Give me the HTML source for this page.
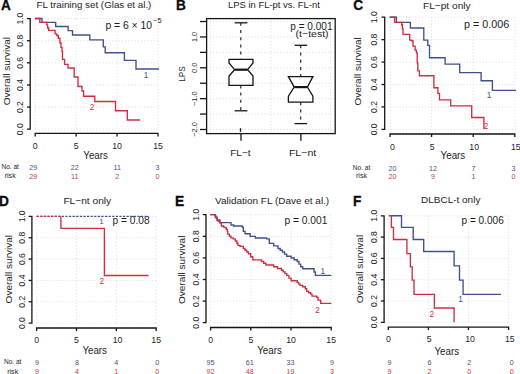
<!DOCTYPE html><html><head><meta charset="utf-8"><style>html,body{margin:0;padding:0;background:#fff;width:520px;height:374px;overflow:hidden}</style></head><body><svg width="520" height="374" viewBox="0 0 520 374" style="display:block">
<rect width="520" height="374" fill="#fff"/>
<g font-family='"Liberation Sans", sans-serif'>
<text x="1.00" y="10.00" font-size="14" font-weight="bold" textLength="9.8" lengthAdjust="spacingAndGlyphs" fill="#0a0a0a" stroke="#0a0a0a" stroke-width="0.3">A</text>
<text x="176.00" y="9.70" font-size="14" font-weight="bold" textLength="9.9" lengthAdjust="spacingAndGlyphs" fill="#0a0a0a" stroke="#0a0a0a" stroke-width="0.3">B</text>
<text x="353.20" y="9.80" font-size="14" font-weight="bold" textLength="9.9" lengthAdjust="spacingAndGlyphs" fill="#0a0a0a" stroke="#0a0a0a" stroke-width="0.3">C</text>
<text x="-0.90" y="205.50" font-size="14" font-weight="bold" textLength="9.9" lengthAdjust="spacingAndGlyphs" fill="#0a0a0a" stroke="#0a0a0a" stroke-width="0.3">D</text>
<text x="175.00" y="205.80" font-size="14" font-weight="bold" textLength="9.2" lengthAdjust="spacingAndGlyphs" fill="#0a0a0a" stroke="#0a0a0a" stroke-width="0.3">E</text>
<text x="353.00" y="206.40" font-size="14" font-weight="bold" textLength="8.4" lengthAdjust="spacingAndGlyphs" fill="#0a0a0a" stroke="#0a0a0a" stroke-width="0.3">F</text>
<line x1="35.20" y1="18.60" x2="158.00" y2="18.60" stroke="#d6d6d6" stroke-width="0.9" stroke-dasharray="1 2.2"/>
<line x1="35.20" y1="40.72" x2="158.00" y2="40.72" stroke="#d6d6d6" stroke-width="0.9" stroke-dasharray="1 2.2"/>
<line x1="35.20" y1="62.84" x2="158.00" y2="62.84" stroke="#d6d6d6" stroke-width="0.9" stroke-dasharray="1 2.2"/>
<line x1="35.20" y1="84.96" x2="158.00" y2="84.96" stroke="#d6d6d6" stroke-width="0.9" stroke-dasharray="1 2.2"/>
<line x1="35.20" y1="107.08" x2="158.00" y2="107.08" stroke="#d6d6d6" stroke-width="0.9" stroke-dasharray="1 2.2"/>
<line x1="35.20" y1="129.20" x2="158.00" y2="129.20" stroke="#d6d6d6" stroke-width="0.9" stroke-dasharray="1 2.2"/>
<line x1="35.20" y1="18.60" x2="35.20" y2="129.20" stroke="#d6d6d6" stroke-width="0.9" stroke-dasharray="1 2.2"/>
<line x1="76.13" y1="18.60" x2="76.13" y2="129.20" stroke="#d6d6d6" stroke-width="0.9" stroke-dasharray="1 2.2"/>
<line x1="117.07" y1="18.60" x2="117.07" y2="129.20" stroke="#d6d6d6" stroke-width="0.9" stroke-dasharray="1 2.2"/>
<line x1="158.00" y1="18.60" x2="158.00" y2="129.20" stroke="#d6d6d6" stroke-width="0.9" stroke-dasharray="1 2.2"/>
<path d="M27.00,18.60 L30.20,18.60 L30.20,129.20 L27.00,129.20" fill="none" stroke="#151515" stroke-width="1.3"/>
<line x1="27.00" y1="40.72" x2="30.20" y2="40.72" stroke="#151515" stroke-width="1.3"/>
<line x1="27.00" y1="62.84" x2="30.20" y2="62.84" stroke="#151515" stroke-width="1.3"/>
<line x1="27.00" y1="84.96" x2="30.20" y2="84.96" stroke="#151515" stroke-width="1.3"/>
<line x1="27.00" y1="107.08" x2="30.20" y2="107.08" stroke="#151515" stroke-width="1.3"/>
<text transform="translate(23.20,18.60) rotate(-90)" font-size="8.6" text-anchor="middle" fill="#1c1c1c" stroke="#1c1c1c" stroke-width="0.0">1.0</text>
<text transform="translate(23.20,40.72) rotate(-90)" font-size="8.6" text-anchor="middle" fill="#1c1c1c" stroke="#1c1c1c" stroke-width="0.0">0.8</text>
<text transform="translate(23.20,62.84) rotate(-90)" font-size="8.6" text-anchor="middle" fill="#1c1c1c" stroke="#1c1c1c" stroke-width="0.0">0.6</text>
<text transform="translate(23.20,84.96) rotate(-90)" font-size="8.6" text-anchor="middle" fill="#1c1c1c" stroke="#1c1c1c" stroke-width="0.0">0.4</text>
<text transform="translate(23.20,107.08) rotate(-90)" font-size="8.6" text-anchor="middle" fill="#1c1c1c" stroke="#1c1c1c" stroke-width="0.0">0.2</text>
<text transform="translate(23.20,129.20) rotate(-90)" font-size="8.6" text-anchor="middle" fill="#1c1c1c" stroke="#1c1c1c" stroke-width="0.0">0.0</text>
<path d="M35.20,136.40 L35.20,133.40 L158.00,133.40 L158.00,136.40" fill="none" stroke="#151515" stroke-width="1.3"/>
<line x1="76.13" y1="133.40" x2="76.13" y2="136.40" stroke="#151515" stroke-width="1.3"/>
<line x1="117.07" y1="133.40" x2="117.07" y2="136.40" stroke="#151515" stroke-width="1.3"/>
<text x="35.20" y="149.00" font-size="8.7" text-anchor="middle" fill="#1c1c1c" stroke="#1c1c1c" stroke-width="0.0">0</text>
<text x="76.13" y="149.00" font-size="8.7" text-anchor="middle" fill="#1c1c1c" stroke="#1c1c1c" stroke-width="0.0">5</text>
<text x="117.07" y="149.00" font-size="8.7" text-anchor="middle" fill="#1c1c1c" stroke="#1c1c1c" stroke-width="0.0">10</text>
<text x="158.00" y="149.00" font-size="8.7" text-anchor="middle" fill="#1c1c1c" stroke="#1c1c1c" stroke-width="0.0">15</text>
<text transform="translate(9.60,71.15) rotate(-90)" font-size="9.6" text-anchor="middle" textLength="68.40" lengthAdjust="spacingAndGlyphs" fill="#1c1c1c" stroke="#1c1c1c" stroke-width="0.0">Overall survival</text>
<text x="95.60" y="159.30" font-size="10.0" text-anchor="middle" textLength="24.60" lengthAdjust="spacingAndGlyphs" fill="#1c1c1c" stroke="#1c1c1c" stroke-width="0.0">Years</text>
<text x="33.20" y="170.10" font-size="7.1" text-anchor="middle" fill="#464f80" stroke="#464f80" stroke-width="0.0">29</text>
<text x="33.20" y="179.20" font-size="7.1" text-anchor="middle" fill="#c03c4c" stroke="#c03c4c" stroke-width="0.0">29</text>
<text x="74.80" y="170.10" font-size="7.1" text-anchor="middle" fill="#464f80" stroke="#464f80" stroke-width="0.0">22</text>
<text x="74.80" y="179.20" font-size="7.1" text-anchor="middle" fill="#c03c4c" stroke="#c03c4c" stroke-width="0.0">11</text>
<text x="117.30" y="170.10" font-size="7.1" text-anchor="middle" fill="#464f80" stroke="#464f80" stroke-width="0.0">11</text>
<text x="117.30" y="179.20" font-size="7.1" text-anchor="middle" fill="#c03c4c" stroke="#c03c4c" stroke-width="0.0">2</text>
<text x="157.60" y="170.10" font-size="7.1" text-anchor="middle" fill="#464f80" stroke="#464f80" stroke-width="0.0">3</text>
<text x="157.60" y="179.20" font-size="7.1" text-anchor="middle" fill="#c03c4c" stroke="#c03c4c" stroke-width="0.0">0</text>
<text x="10.20" y="169.10" font-size="6.6" text-anchor="middle" textLength="17.50" lengthAdjust="spacingAndGlyphs" fill="#1c1c1c" stroke="#1c1c1c" stroke-width="0.0">No. at</text>
<text x="10.20" y="178.10" font-size="6.9" text-anchor="middle" textLength="11.00" lengthAdjust="spacingAndGlyphs" fill="#1c1c1c" stroke="#1c1c1c" stroke-width="0.0">risk</text>
<text x="36.60" y="8.30" font-size="9.2" textLength="114.80" lengthAdjust="spacingAndGlyphs" fill="#1c1c1c" stroke="#1c1c1c" stroke-width="0.0">FL training set (Glas et al.)</text>
<text x="105.40" y="28.80" font-size="10.4" textLength="46.60" lengthAdjust="spacingAndGlyphs" fill="#1c1c1c" stroke="#1c1c1c" stroke-width="0.0">p = 6 × 10</text>
<text x="153.20" y="23.00" font-size="6.8" textLength="8.20" lengthAdjust="spacingAndGlyphs" fill="#1c1c1c" stroke="#1c1c1c" stroke-width="0.0">−5</text>
<path d="M35.10,18.50 L42.00,18.50 L42.00,22.40 L55.70,22.40 L55.70,26.50 L68.10,26.50 L68.10,30.60 L72.50,30.60 L72.50,35.00 L89.80,35.00 L89.80,39.80 L103.30,39.80 L103.30,46.90 L105.20,46.90 L105.20,52.70 L124.40,52.70 L124.40,60.40 L136.00,60.40 L136.00,69.00 L159.00,69.00" fill="none" stroke="#40508f" stroke-width="1.35" stroke-linejoin="miter" stroke-linecap="butt"/>
<path d="M35.10,18.50 L39.80,18.50 L39.80,22.40 L46.80,22.40 L46.80,24.80 L47.60,24.80 L47.60,28.00 L48.70,28.00 L48.70,30.40 L55.10,30.40 L55.10,33.90 L56.70,33.90 L56.70,35.50 L58.30,35.50 L58.30,38.20 L59.90,38.20 L59.90,43.00 L61.00,43.00 L61.00,47.30 L62.00,47.30 L62.00,51.40 L62.50,51.40 L62.50,59.40 L64.60,59.40 L64.60,64.30 L68.00,64.30 L68.00,68.00 L74.20,68.00 L74.20,77.00 L78.00,77.00 L78.00,86.50 L82.00,86.50 L82.00,91.00 L83.60,91.00 L83.60,96.20 L94.80,96.20 L94.80,101.50 L115.50,101.50 L115.50,110.70 L127.30,110.70 L127.30,120.00 L140.00,120.00" fill="none" stroke="#cc3040" stroke-width="1.35" stroke-linejoin="miter" stroke-linecap="butt"/>
<text x="146.00" y="77.60" font-size="8.2" text-anchor="middle" fill="#40508f" stroke="#40508f" stroke-width="0.0">1</text>
<text x="92.00" y="110.40" font-size="8.2" text-anchor="middle" fill="#cc3040" stroke="#cc3040" stroke-width="0.0">2</text>
<line x1="206.60" y1="21.52" x2="335.20" y2="21.52" stroke="#d6d6d6" stroke-width="0.9" stroke-dasharray="1 2.2"/>
<line x1="206.60" y1="36.95" x2="335.20" y2="36.95" stroke="#d6d6d6" stroke-width="0.9" stroke-dasharray="1 2.2"/>
<line x1="206.60" y1="52.38" x2="335.20" y2="52.38" stroke="#d6d6d6" stroke-width="0.9" stroke-dasharray="1 2.2"/>
<line x1="206.60" y1="67.80" x2="335.20" y2="67.80" stroke="#d6d6d6" stroke-width="0.9" stroke-dasharray="1 2.2"/>
<line x1="206.60" y1="83.22" x2="335.20" y2="83.22" stroke="#d6d6d6" stroke-width="0.9" stroke-dasharray="1 2.2"/>
<line x1="206.60" y1="98.65" x2="335.20" y2="98.65" stroke="#d6d6d6" stroke-width="0.9" stroke-dasharray="1 2.2"/>
<line x1="206.60" y1="114.08" x2="335.20" y2="114.08" stroke="#d6d6d6" stroke-width="0.9" stroke-dasharray="1 2.2"/>
<line x1="206.60" y1="129.50" x2="335.20" y2="129.50" stroke="#d6d6d6" stroke-width="0.9" stroke-dasharray="1 2.2"/>
<line x1="210.50" y1="18.60" x2="210.50" y2="133.60" stroke="#d6d6d6" stroke-width="0.9" stroke-dasharray="1 2.2"/>
<line x1="270.90" y1="18.60" x2="270.90" y2="133.60" stroke="#d6d6d6" stroke-width="0.9" stroke-dasharray="1 2.2"/>
<line x1="330.50" y1="18.60" x2="330.50" y2="133.60" stroke="#d6d6d6" stroke-width="0.9" stroke-dasharray="1 2.2"/>
<rect x="206.6" y="18.6" width="128.60" height="115.00" fill="none" stroke="#151515" stroke-width="1.3"/>
<line x1="200.00" y1="21.52" x2="206.60" y2="21.52" stroke="#151515" stroke-width="1.3"/>
<line x1="200.00" y1="36.95" x2="206.60" y2="36.95" stroke="#151515" stroke-width="1.3"/>
<line x1="200.00" y1="52.38" x2="206.60" y2="52.38" stroke="#151515" stroke-width="1.3"/>
<line x1="200.00" y1="67.80" x2="206.60" y2="67.80" stroke="#151515" stroke-width="1.3"/>
<line x1="200.00" y1="83.22" x2="206.60" y2="83.22" stroke="#151515" stroke-width="1.3"/>
<line x1="200.00" y1="98.65" x2="206.60" y2="98.65" stroke="#151515" stroke-width="1.3"/>
<line x1="200.00" y1="114.08" x2="206.60" y2="114.08" stroke="#151515" stroke-width="1.3"/>
<line x1="200.00" y1="129.50" x2="206.60" y2="129.50" stroke="#151515" stroke-width="1.3"/>
<text transform="translate(196.60,36.95) rotate(-90)" font-size="7.4" text-anchor="middle" fill="#1c1c1c" stroke="#1c1c1c" stroke-width="0.0">1.0</text>
<text transform="translate(196.60,67.80) rotate(-90)" font-size="7.4" text-anchor="middle" fill="#1c1c1c" stroke="#1c1c1c" stroke-width="0.0">0.0</text>
<text transform="translate(196.60,98.65) rotate(-90)" font-size="7.4" text-anchor="middle" fill="#1c1c1c" stroke="#1c1c1c" stroke-width="0.0">−1.0</text>
<text transform="translate(196.60,129.50) rotate(-90)" font-size="7.4" text-anchor="middle" fill="#1c1c1c" stroke="#1c1c1c" stroke-width="0.0">−2.0</text>
<line x1="241.00" y1="133.60" x2="241.00" y2="140.80" stroke="#151515" stroke-width="1.3"/>
<line x1="300.90" y1="133.60" x2="300.90" y2="140.80" stroke="#151515" stroke-width="1.3"/>
<text x="240.40" y="155.60" font-size="9.2" text-anchor="middle" textLength="20.40" lengthAdjust="spacingAndGlyphs" fill="#1c1c1c" stroke="#1c1c1c" stroke-width="0.0">FL−t</text>
<text x="302.60" y="155.60" font-size="9.2" text-anchor="middle" textLength="27.40" lengthAdjust="spacingAndGlyphs" fill="#1c1c1c" stroke="#1c1c1c" stroke-width="0.0">FL−nt</text>
<text transform="translate(185.00,74.00) rotate(-90)" font-size="9.0" text-anchor="middle" textLength="15.40" lengthAdjust="spacingAndGlyphs" fill="#1c1c1c" stroke="#1c1c1c" stroke-width="0.0">LPS</text>
<text x="228.00" y="8.00" font-size="9.3" textLength="91.80" lengthAdjust="spacingAndGlyphs" fill="#1c1c1c" stroke="#1c1c1c" stroke-width="0.0">LPS in FL-pt vs. FL-nt</text>
<text x="290.30" y="30.20" font-size="10.4" textLength="42.20" lengthAdjust="spacingAndGlyphs" fill="#1c1c1c" stroke="#1c1c1c" stroke-width="0.0">p = 0.001</text>
<text x="295.60" y="36.60" font-size="9.2" textLength="33.00" lengthAdjust="spacingAndGlyphs" fill="#1c1c1c" stroke="#1c1c1c" stroke-width="0.0">(t−test)</text>
<line x1="240.8" y1="22.8" x2="240.8" y2="59.3" stroke="#151515" stroke-width="1.1" stroke-dasharray="3 4.2"/>
<line x1="240.8" y1="85.4" x2="240.8" y2="110.8" stroke="#151515" stroke-width="1.1" stroke-dasharray="3 4.2"/>
<line x1="234.70" y1="22.80" x2="247.40" y2="22.80" stroke="#151515" stroke-width="1.3"/>
<line x1="234.70" y1="110.80" x2="247.40" y2="110.80" stroke="#151515" stroke-width="1.3"/>
<path d="M229.00,59.30 L229.00,62.90 L234.60,69.70 L229.00,76.10 L229.00,85.40 L253.00,85.40 L253.00,76.10 L247.60,69.70 L253.00,62.90 L253.00,59.30 Z" fill="none" stroke="#151515" stroke-width="1.3" stroke-linejoin="miter"/>
<line x1="234.60" y1="69.70" x2="247.60" y2="69.70" stroke="#151515" stroke-width="2.2"/>
<line x1="300.7" y1="45.3" x2="300.7" y2="76.6" stroke="#151515" stroke-width="1.1" stroke-dasharray="3 4.2"/>
<line x1="300.7" y1="102.2" x2="300.7" y2="123.6" stroke="#151515" stroke-width="1.1" stroke-dasharray="3 4.2"/>
<line x1="294.50" y1="45.30" x2="307.20" y2="45.30" stroke="#151515" stroke-width="1.3"/>
<line x1="294.50" y1="123.60" x2="307.20" y2="123.60" stroke="#151515" stroke-width="1.3"/>
<path d="M288.40,76.60 L288.40,76.60 L294.20,87.10 L288.40,96.20 L288.40,102.20 L312.90,102.20 L312.90,96.20 L307.40,87.10 L312.90,76.60 L312.90,76.60 Z" fill="none" stroke="#151515" stroke-width="1.3" stroke-linejoin="miter"/>
<line x1="294.20" y1="87.10" x2="307.40" y2="87.10" stroke="#151515" stroke-width="2.2"/>
<line x1="240.50" y1="128.20" x2="240.50" y2="131.80" stroke="#151515" stroke-width="1.3"/>
<line x1="390.00" y1="17.20" x2="514.80" y2="17.20" stroke="#d6d6d6" stroke-width="0.9" stroke-dasharray="1 2.2"/>
<line x1="390.00" y1="39.64" x2="514.80" y2="39.64" stroke="#d6d6d6" stroke-width="0.9" stroke-dasharray="1 2.2"/>
<line x1="390.00" y1="62.08" x2="514.80" y2="62.08" stroke="#d6d6d6" stroke-width="0.9" stroke-dasharray="1 2.2"/>
<line x1="390.00" y1="84.52" x2="514.80" y2="84.52" stroke="#d6d6d6" stroke-width="0.9" stroke-dasharray="1 2.2"/>
<line x1="390.00" y1="106.96" x2="514.80" y2="106.96" stroke="#d6d6d6" stroke-width="0.9" stroke-dasharray="1 2.2"/>
<line x1="390.00" y1="129.40" x2="514.80" y2="129.40" stroke="#d6d6d6" stroke-width="0.9" stroke-dasharray="1 2.2"/>
<line x1="390.00" y1="17.20" x2="390.00" y2="129.40" stroke="#d6d6d6" stroke-width="0.9" stroke-dasharray="1 2.2"/>
<line x1="431.60" y1="17.20" x2="431.60" y2="129.40" stroke="#d6d6d6" stroke-width="0.9" stroke-dasharray="1 2.2"/>
<line x1="473.20" y1="17.20" x2="473.20" y2="129.40" stroke="#d6d6d6" stroke-width="0.9" stroke-dasharray="1 2.2"/>
<line x1="514.80" y1="17.20" x2="514.80" y2="129.40" stroke="#d6d6d6" stroke-width="0.9" stroke-dasharray="1 2.2"/>
<path d="M381.50,17.20 L384.70,17.20 L384.70,129.40 L381.50,129.40" fill="none" stroke="#151515" stroke-width="1.3"/>
<line x1="381.50" y1="39.64" x2="384.70" y2="39.64" stroke="#151515" stroke-width="1.3"/>
<line x1="381.50" y1="62.08" x2="384.70" y2="62.08" stroke="#151515" stroke-width="1.3"/>
<line x1="381.50" y1="84.52" x2="384.70" y2="84.52" stroke="#151515" stroke-width="1.3"/>
<line x1="381.50" y1="106.96" x2="384.70" y2="106.96" stroke="#151515" stroke-width="1.3"/>
<text transform="translate(377.00,17.20) rotate(-90)" font-size="8.6" text-anchor="middle" fill="#1c1c1c" stroke="#1c1c1c" stroke-width="0.0">1.0</text>
<text transform="translate(377.00,39.64) rotate(-90)" font-size="8.6" text-anchor="middle" fill="#1c1c1c" stroke="#1c1c1c" stroke-width="0.0">0.8</text>
<text transform="translate(377.00,62.08) rotate(-90)" font-size="8.6" text-anchor="middle" fill="#1c1c1c" stroke="#1c1c1c" stroke-width="0.0">0.6</text>
<text transform="translate(377.00,84.52) rotate(-90)" font-size="8.6" text-anchor="middle" fill="#1c1c1c" stroke="#1c1c1c" stroke-width="0.0">0.4</text>
<text transform="translate(377.00,106.96) rotate(-90)" font-size="8.6" text-anchor="middle" fill="#1c1c1c" stroke="#1c1c1c" stroke-width="0.0">0.2</text>
<text transform="translate(377.00,129.40) rotate(-90)" font-size="8.6" text-anchor="middle" fill="#1c1c1c" stroke="#1c1c1c" stroke-width="0.0">0.0</text>
<path d="M390.00,137.00 L390.00,134.00 L514.80,134.00 L514.80,137.00" fill="none" stroke="#151515" stroke-width="1.3"/>
<line x1="431.60" y1="134.00" x2="431.60" y2="137.00" stroke="#151515" stroke-width="1.3"/>
<line x1="473.20" y1="134.00" x2="473.20" y2="137.00" stroke="#151515" stroke-width="1.3"/>
<text x="392.40" y="150.20" font-size="8.7" text-anchor="middle" fill="#1c1c1c" stroke="#1c1c1c" stroke-width="0.0">0</text>
<text x="432.10" y="150.20" font-size="8.7" text-anchor="middle" fill="#1c1c1c" stroke="#1c1c1c" stroke-width="0.0">5</text>
<text x="474.20" y="150.20" font-size="8.7" text-anchor="middle" fill="#1c1c1c" stroke="#1c1c1c" stroke-width="0.0">10</text>
<text x="515.80" y="150.20" font-size="8.7" text-anchor="middle" fill="#1c1c1c" stroke="#1c1c1c" stroke-width="0.0">15</text>
<text transform="translate(360.80,71.40) rotate(-90)" font-size="9.6" text-anchor="middle" textLength="68.40" lengthAdjust="spacingAndGlyphs" fill="#1c1c1c" stroke="#1c1c1c" stroke-width="0.0">Overall survival</text>
<text x="452.90" y="159.40" font-size="10.0" text-anchor="middle" textLength="24.60" lengthAdjust="spacingAndGlyphs" fill="#1c1c1c" stroke="#1c1c1c" stroke-width="0.0">Years</text>
<text x="392.40" y="170.70" font-size="7.1" text-anchor="middle" fill="#464f80" stroke="#464f80" stroke-width="0.0">20</text>
<text x="392.40" y="179.00" font-size="7.1" text-anchor="middle" fill="#c03c4c" stroke="#c03c4c" stroke-width="0.0">20</text>
<text x="433.00" y="170.70" font-size="7.1" text-anchor="middle" fill="#464f80" stroke="#464f80" stroke-width="0.0">12</text>
<text x="433.00" y="179.00" font-size="7.1" text-anchor="middle" fill="#c03c4c" stroke="#c03c4c" stroke-width="0.0">9</text>
<text x="473.60" y="170.70" font-size="7.1" text-anchor="middle" fill="#464f80" stroke="#464f80" stroke-width="0.0">7</text>
<text x="473.60" y="179.00" font-size="7.1" text-anchor="middle" fill="#c03c4c" stroke="#c03c4c" stroke-width="0.0">1</text>
<text x="513.40" y="170.70" font-size="7.1" text-anchor="middle" fill="#464f80" stroke="#464f80" stroke-width="0.0">3</text>
<text x="513.40" y="179.00" font-size="7.1" text-anchor="middle" fill="#c03c4c" stroke="#c03c4c" stroke-width="0.0">0</text>
<text x="361.50" y="169.60" font-size="6.6" text-anchor="middle" textLength="17.50" lengthAdjust="spacingAndGlyphs" fill="#1c1c1c" stroke="#1c1c1c" stroke-width="0.0">No. at</text>
<text x="361.50" y="177.70" font-size="6.9" text-anchor="middle" textLength="11.00" lengthAdjust="spacingAndGlyphs" fill="#1c1c1c" stroke="#1c1c1c" stroke-width="0.0">risk</text>
<text x="423.00" y="8.80" font-size="9.4" textLength="47.60" lengthAdjust="spacingAndGlyphs" fill="#1c1c1c" stroke="#1c1c1c" stroke-width="0.0">FL−pt only</text>
<text x="464.10" y="28.00" font-size="10.4" textLength="45.20" lengthAdjust="spacingAndGlyphs" fill="#1c1c1c" stroke="#1c1c1c" stroke-width="0.0">p = 0.006</text>
<path d="M389.70,17.20 L396.40,17.20 L396.40,22.40 L410.40,22.40 L410.40,28.00 L423.80,28.00 L423.80,40.10 L427.80,40.10 L427.80,45.40 L429.50,45.40 L429.50,57.70 L445.10,57.70 L445.10,64.10 L459.70,64.10 L459.70,72.60 L481.10,72.60 L481.10,80.70 L492.40,80.70 L492.40,90.30 L516.00,90.30" fill="none" stroke="#40508f" stroke-width="1.35" stroke-linejoin="miter" stroke-linecap="butt"/>
<path d="M389.70,17.20 L394.60,17.20 L394.60,22.40 L401.70,22.40 L401.70,24.70 L402.40,24.70 L402.40,28.70 L403.00,28.70 L403.00,34.30 L409.70,34.30 L409.70,40.10 L411.50,40.10 L411.50,40.70 L413.00,40.70 L413.00,46.10 L415.10,46.10 L415.10,50.10 L416.40,50.10 L416.40,52.80 L417.20,52.80 L417.20,62.80 L417.80,62.80 L417.80,70.90 L419.40,70.90 L419.40,75.70 L433.90,75.70 L433.90,87.70 L437.90,87.70 L437.90,93.30 L439.50,93.30 L439.50,99.80 L450.70,99.80 L450.70,105.80 L471.70,105.80 L471.70,117.50 L483.90,117.50 L483.90,129.00" fill="none" stroke="#cc3040" stroke-width="1.35" stroke-linejoin="miter" stroke-linecap="butt"/>
<text x="489.00" y="97.90" font-size="8.2" text-anchor="middle" fill="#40508f" stroke="#40508f" stroke-width="0.0">1</text>
<text x="486.00" y="128.80" font-size="8.2" text-anchor="middle" fill="#cc3040" stroke="#cc3040" stroke-width="0.0">2</text>
<line x1="36.60" y1="216.40" x2="156.20" y2="216.40" stroke="#d6d6d6" stroke-width="0.9" stroke-dasharray="1 2.2"/>
<line x1="36.60" y1="237.74" x2="156.20" y2="237.74" stroke="#d6d6d6" stroke-width="0.9" stroke-dasharray="1 2.2"/>
<line x1="36.60" y1="259.08" x2="156.20" y2="259.08" stroke="#d6d6d6" stroke-width="0.9" stroke-dasharray="1 2.2"/>
<line x1="36.60" y1="280.42" x2="156.20" y2="280.42" stroke="#d6d6d6" stroke-width="0.9" stroke-dasharray="1 2.2"/>
<line x1="36.60" y1="301.76" x2="156.20" y2="301.76" stroke="#d6d6d6" stroke-width="0.9" stroke-dasharray="1 2.2"/>
<line x1="36.60" y1="323.10" x2="156.20" y2="323.10" stroke="#d6d6d6" stroke-width="0.9" stroke-dasharray="1 2.2"/>
<line x1="36.60" y1="216.40" x2="36.60" y2="323.10" stroke="#d6d6d6" stroke-width="0.9" stroke-dasharray="1 2.2"/>
<line x1="76.47" y1="216.40" x2="76.47" y2="323.10" stroke="#d6d6d6" stroke-width="0.9" stroke-dasharray="1 2.2"/>
<line x1="116.33" y1="216.40" x2="116.33" y2="323.10" stroke="#d6d6d6" stroke-width="0.9" stroke-dasharray="1 2.2"/>
<line x1="156.20" y1="216.40" x2="156.20" y2="323.10" stroke="#d6d6d6" stroke-width="0.9" stroke-dasharray="1 2.2"/>
<path d="M28.70,216.40 L31.90,216.40 L31.90,323.10 L28.70,323.10" fill="none" stroke="#151515" stroke-width="1.3"/>
<line x1="28.70" y1="237.74" x2="31.90" y2="237.74" stroke="#151515" stroke-width="1.3"/>
<line x1="28.70" y1="259.08" x2="31.90" y2="259.08" stroke="#151515" stroke-width="1.3"/>
<line x1="28.70" y1="280.42" x2="31.90" y2="280.42" stroke="#151515" stroke-width="1.3"/>
<line x1="28.70" y1="301.76" x2="31.90" y2="301.76" stroke="#151515" stroke-width="1.3"/>
<text transform="translate(24.80,216.40) rotate(-90)" font-size="8.6" text-anchor="middle" fill="#1c1c1c" stroke="#1c1c1c" stroke-width="0.0">1.0</text>
<text transform="translate(24.80,237.74) rotate(-90)" font-size="8.6" text-anchor="middle" fill="#1c1c1c" stroke="#1c1c1c" stroke-width="0.0">0.8</text>
<text transform="translate(24.80,259.08) rotate(-90)" font-size="8.6" text-anchor="middle" fill="#1c1c1c" stroke="#1c1c1c" stroke-width="0.0">0.6</text>
<text transform="translate(24.80,280.42) rotate(-90)" font-size="8.6" text-anchor="middle" fill="#1c1c1c" stroke="#1c1c1c" stroke-width="0.0">0.4</text>
<text transform="translate(24.80,301.76) rotate(-90)" font-size="8.6" text-anchor="middle" fill="#1c1c1c" stroke="#1c1c1c" stroke-width="0.0">0.2</text>
<text transform="translate(24.80,323.10) rotate(-90)" font-size="8.6" text-anchor="middle" fill="#1c1c1c" stroke="#1c1c1c" stroke-width="0.0">0.0</text>
<path d="M36.60,331.00 L36.60,328.00 L156.20,328.00 L156.20,331.00" fill="none" stroke="#151515" stroke-width="1.3"/>
<line x1="76.47" y1="328.00" x2="76.47" y2="331.00" stroke="#151515" stroke-width="1.3"/>
<line x1="116.33" y1="328.00" x2="116.33" y2="331.00" stroke="#151515" stroke-width="1.3"/>
<text x="36.60" y="342.50" font-size="8.7" text-anchor="middle" fill="#1c1c1c" stroke="#1c1c1c" stroke-width="0.0">0</text>
<text x="76.47" y="342.50" font-size="8.7" text-anchor="middle" fill="#1c1c1c" stroke="#1c1c1c" stroke-width="0.0">5</text>
<text x="117.53" y="342.50" font-size="8.7" text-anchor="middle" fill="#1c1c1c" stroke="#1c1c1c" stroke-width="0.0">10</text>
<text x="156.20" y="342.50" font-size="8.7" text-anchor="middle" fill="#1c1c1c" stroke="#1c1c1c" stroke-width="0.0">15</text>
<text transform="translate(11.60,269.20) rotate(-90)" font-size="9.6" text-anchor="middle" textLength="68.40" lengthAdjust="spacingAndGlyphs" fill="#1c1c1c" stroke="#1c1c1c" stroke-width="0.0">Overall survival</text>
<text x="94.70" y="354.40" font-size="10.0" text-anchor="middle" textLength="24.60" lengthAdjust="spacingAndGlyphs" fill="#1c1c1c" stroke="#1c1c1c" stroke-width="0.0">Years</text>
<text x="37.10" y="365.30" font-size="7.1" text-anchor="middle" fill="#464f80" stroke="#464f80" stroke-width="0.0">9</text>
<text x="37.10" y="373.60" font-size="7.1" text-anchor="middle" fill="#c03c4c" stroke="#c03c4c" stroke-width="0.0">9</text>
<text x="77.10" y="365.30" font-size="7.1" text-anchor="middle" fill="#464f80" stroke="#464f80" stroke-width="0.0">8</text>
<text x="77.10" y="373.60" font-size="7.1" text-anchor="middle" fill="#c03c4c" stroke="#c03c4c" stroke-width="0.0">4</text>
<text x="116.30" y="365.30" font-size="7.1" text-anchor="middle" fill="#464f80" stroke="#464f80" stroke-width="0.0">4</text>
<text x="116.30" y="373.60" font-size="7.1" text-anchor="middle" fill="#c03c4c" stroke="#c03c4c" stroke-width="0.0">1</text>
<text x="157.30" y="365.30" font-size="7.1" text-anchor="middle" fill="#464f80" stroke="#464f80" stroke-width="0.0">0</text>
<text x="157.30" y="373.60" font-size="7.1" text-anchor="middle" fill="#c03c4c" stroke="#c03c4c" stroke-width="0.0">0</text>
<text x="12.70" y="364.30" font-size="6.6" text-anchor="middle" textLength="17.50" lengthAdjust="spacingAndGlyphs" fill="#1c1c1c" stroke="#1c1c1c" stroke-width="0.0">No. at</text>
<text x="12.70" y="373.60" font-size="6.9" text-anchor="middle" textLength="11.00" lengthAdjust="spacingAndGlyphs" fill="#1c1c1c" stroke="#1c1c1c" stroke-width="0.0">risk</text>
<text x="63.40" y="204.30" font-size="9.4" textLength="47.80" lengthAdjust="spacingAndGlyphs" fill="#1c1c1c" stroke="#1c1c1c" stroke-width="0.0">FL−nt only</text>
<text x="112.60" y="224.40" font-size="10.2" textLength="37.00" lengthAdjust="spacingAndGlyphs" fill="#1c1c1c" stroke="#1c1c1c" stroke-width="0.0">p = 0.08</text>
<line x1="36.60" y1="216.40" x2="148.50" y2="216.40" stroke="#40508f" stroke-width="1.3" stroke-dasharray="2.2 1.4"/>
<line x1="36.80" y1="216.40" x2="60.90" y2="216.40" stroke="#cc3040" stroke-width="1.3" stroke-dasharray="2.2 1.4"/>
<path d="M60.90,216.40 L60.90,228.40 L104.40,228.40 L104.40,275.50 L148.50,275.50" fill="none" stroke="#cc3040" stroke-width="1.35" stroke-linejoin="miter" stroke-linecap="butt"/>
<text x="101.50" y="224.20" font-size="8.0" text-anchor="middle" fill="#40508f" stroke="#40508f" stroke-width="0.0">1</text>
<text x="101.80" y="283.50" font-size="8.2" text-anchor="middle" fill="#cc3040" stroke="#cc3040" stroke-width="0.0">2</text>
<line x1="210.60" y1="214.70" x2="331.20" y2="214.70" stroke="#d6d6d6" stroke-width="0.9" stroke-dasharray="1 2.2"/>
<line x1="210.60" y1="236.30" x2="331.20" y2="236.30" stroke="#d6d6d6" stroke-width="0.9" stroke-dasharray="1 2.2"/>
<line x1="210.60" y1="257.90" x2="331.20" y2="257.90" stroke="#d6d6d6" stroke-width="0.9" stroke-dasharray="1 2.2"/>
<line x1="210.60" y1="279.50" x2="331.20" y2="279.50" stroke="#d6d6d6" stroke-width="0.9" stroke-dasharray="1 2.2"/>
<line x1="210.60" y1="301.10" x2="331.20" y2="301.10" stroke="#d6d6d6" stroke-width="0.9" stroke-dasharray="1 2.2"/>
<line x1="210.60" y1="322.70" x2="331.20" y2="322.70" stroke="#d6d6d6" stroke-width="0.9" stroke-dasharray="1 2.2"/>
<line x1="210.60" y1="214.70" x2="210.60" y2="322.70" stroke="#d6d6d6" stroke-width="0.9" stroke-dasharray="1 2.2"/>
<line x1="250.80" y1="214.70" x2="250.80" y2="322.70" stroke="#d6d6d6" stroke-width="0.9" stroke-dasharray="1 2.2"/>
<line x1="291.00" y1="214.70" x2="291.00" y2="322.70" stroke="#d6d6d6" stroke-width="0.9" stroke-dasharray="1 2.2"/>
<line x1="331.20" y1="214.70" x2="331.20" y2="322.70" stroke="#d6d6d6" stroke-width="0.9" stroke-dasharray="1 2.2"/>
<path d="M202.80,214.70 L206.00,214.70 L206.00,322.70 L202.80,322.70" fill="none" stroke="#151515" stroke-width="1.3"/>
<line x1="202.80" y1="236.30" x2="206.00" y2="236.30" stroke="#151515" stroke-width="1.3"/>
<line x1="202.80" y1="257.90" x2="206.00" y2="257.90" stroke="#151515" stroke-width="1.3"/>
<line x1="202.80" y1="279.50" x2="206.00" y2="279.50" stroke="#151515" stroke-width="1.3"/>
<line x1="202.80" y1="301.10" x2="206.00" y2="301.10" stroke="#151515" stroke-width="1.3"/>
<text transform="translate(199.10,214.70) rotate(-90)" font-size="8.6" text-anchor="middle" fill="#1c1c1c" stroke="#1c1c1c" stroke-width="0.0">1.0</text>
<text transform="translate(199.10,236.30) rotate(-90)" font-size="8.6" text-anchor="middle" fill="#1c1c1c" stroke="#1c1c1c" stroke-width="0.0">0.8</text>
<text transform="translate(199.10,257.90) rotate(-90)" font-size="8.6" text-anchor="middle" fill="#1c1c1c" stroke="#1c1c1c" stroke-width="0.0">0.6</text>
<text transform="translate(199.10,279.50) rotate(-90)" font-size="8.6" text-anchor="middle" fill="#1c1c1c" stroke="#1c1c1c" stroke-width="0.0">0.4</text>
<text transform="translate(199.10,301.10) rotate(-90)" font-size="8.6" text-anchor="middle" fill="#1c1c1c" stroke="#1c1c1c" stroke-width="0.0">0.2</text>
<text transform="translate(199.10,322.70) rotate(-90)" font-size="8.6" text-anchor="middle" fill="#1c1c1c" stroke="#1c1c1c" stroke-width="0.0">0.0</text>
<path d="M210.60,330.50 L210.60,327.50 L331.20,327.50 L331.20,330.50" fill="none" stroke="#151515" stroke-width="1.3"/>
<line x1="250.80" y1="327.50" x2="250.80" y2="330.50" stroke="#151515" stroke-width="1.3"/>
<line x1="291.00" y1="327.50" x2="291.00" y2="330.50" stroke="#151515" stroke-width="1.3"/>
<text x="210.60" y="342.50" font-size="8.7" text-anchor="middle" fill="#1c1c1c" stroke="#1c1c1c" stroke-width="0.0">0</text>
<text x="250.80" y="342.50" font-size="8.7" text-anchor="middle" fill="#1c1c1c" stroke="#1c1c1c" stroke-width="0.0">5</text>
<text x="291.00" y="342.50" font-size="8.7" text-anchor="middle" fill="#1c1c1c" stroke="#1c1c1c" stroke-width="0.0">10</text>
<text x="331.20" y="342.50" font-size="8.7" text-anchor="middle" fill="#1c1c1c" stroke="#1c1c1c" stroke-width="0.0">15</text>
<text transform="translate(185.40,269.80) rotate(-90)" font-size="9.6" text-anchor="middle" textLength="68.40" lengthAdjust="spacingAndGlyphs" fill="#1c1c1c" stroke="#1c1c1c" stroke-width="0.0">Overall survival</text>
<text x="269.50" y="354.40" font-size="10.0" text-anchor="middle" textLength="24.60" lengthAdjust="spacingAndGlyphs" fill="#1c1c1c" stroke="#1c1c1c" stroke-width="0.0">Years</text>
<text x="210.40" y="364.90" font-size="7.1" text-anchor="middle" fill="#464f80" stroke="#464f80" stroke-width="0.0">95</text>
<text x="210.40" y="373.60" font-size="7.1" text-anchor="middle" fill="#c03c4c" stroke="#c03c4c" stroke-width="0.0">92</text>
<text x="249.80" y="364.90" font-size="7.1" text-anchor="middle" fill="#464f80" stroke="#464f80" stroke-width="0.0">61</text>
<text x="249.80" y="373.60" font-size="7.1" text-anchor="middle" fill="#c03c4c" stroke="#c03c4c" stroke-width="0.0">48</text>
<text x="290.50" y="364.90" font-size="7.1" text-anchor="middle" fill="#464f80" stroke="#464f80" stroke-width="0.0">33</text>
<text x="290.50" y="373.60" font-size="7.1" text-anchor="middle" fill="#c03c4c" stroke="#c03c4c" stroke-width="0.0">19</text>
<text x="332.00" y="364.90" font-size="7.1" text-anchor="middle" fill="#464f80" stroke="#464f80" stroke-width="0.0">9</text>
<text x="332.00" y="373.60" font-size="7.1" text-anchor="middle" fill="#c03c4c" stroke="#c03c4c" stroke-width="0.0">3</text>
<text x="215.00" y="203.60" font-size="9.4" textLength="114.20" lengthAdjust="spacingAndGlyphs" fill="#1c1c1c" stroke="#1c1c1c" stroke-width="0.0">Validation FL (Dave et al.)</text>
<text x="284.40" y="224.30" font-size="10.2" textLength="43.00" lengthAdjust="spacingAndGlyphs" fill="#1c1c1c" stroke="#1c1c1c" stroke-width="0.0">p = 0.001</text>
<path d="M210.60,214.60 L213.40,214.60 L215.30,214.60 L215.30,217.20 L217.20,217.20 L217.20,220.00 L219.80,220.00 L219.80,222.60 L228.90,222.60 L231.00,222.60 L231.00,225.00 L233.70,225.00 L233.70,226.00 L241.20,226.00 L242.20,226.00 L242.20,227.10 L243.30,227.10 L243.30,231.40 L245.00,231.40 L245.00,233.70 L250.20,233.70 L250.20,236.30 L255.40,236.30 L255.40,238.00 L266.70,238.00 L266.70,238.90 L269.30,238.90 L269.30,243.30 L273.70,243.30 L273.70,245.90 L278.00,245.90 L278.00,248.50 L280.20,248.50 L280.20,250.25 L282.40,250.25 L282.40,252.00 L284.55,252.00 L284.55,254.15 L286.70,254.15 L286.70,256.30 L291.10,256.30 L291.10,258.00 L294.15,258.00 L294.15,259.75 L297.20,259.75 L297.20,261.50 L298.95,261.50 L298.95,264.10 L300.70,264.10 L300.70,266.70 L302.70,266.70 L302.70,268.70 L314.00,268.70 L314.00,272.00 L315.40,272.00 L315.40,275.40 L331.40,275.40" fill="none" stroke="#40508f" stroke-width="1.35" stroke-linejoin="miter" stroke-linecap="butt"/>
<path d="M210.10,214.60 L213.30,214.60 L215.00,214.60 L215.00,215.90 L216.00,215.90 L216.00,218.00 L217.10,218.00 L217.10,220.20 L218.20,220.20 L218.20,221.20 L219.80,221.20 L219.80,222.60 L220.80,222.60 L220.80,223.40 L221.40,223.40 L221.40,226.00 L223.50,226.00 L223.50,227.10 L225.10,227.10 L225.10,227.60 L226.20,227.60 L226.20,229.30 L227.30,229.30 L227.30,231.40 L227.80,231.40 L227.80,234.10 L229.40,234.10 L229.40,236.20 L231.00,236.20 L231.00,237.80 L233.10,237.80 L233.10,238.90 L235.30,238.90 L235.30,241.00 L236.90,241.00 L236.90,243.20 L237.90,243.20 L237.90,245.30 L240.10,245.30 L240.10,246.40 L243.30,246.40 L243.30,248.50 L245.00,248.50 L245.00,250.20 L246.75,250.20 L246.75,251.95 L248.50,251.95 L248.50,253.70 L250.65,253.70 L250.65,256.75 L252.80,256.75 L252.80,259.80 L261.50,259.80 L261.50,261.50 L263.70,261.50 L263.70,263.25 L265.90,263.25 L265.90,265.00 L273.70,265.00 L273.70,266.70 L277.60,266.70 L277.60,268.45 L281.50,268.45 L281.50,270.20 L283.23,270.20 L283.23,271.93 L284.97,271.93 L284.97,273.67 L286.70,273.67 L286.70,275.40 L288.90,275.40 L288.90,278.05 L291.10,278.05 L291.10,280.70 L297.20,280.70 L297.20,282.40 L298.60,282.40 L298.60,283.90 L300.00,283.90 L300.00,285.40 L302.70,285.40 L302.70,286.70 L305.30,286.70 L305.30,288.70 L306.70,288.70 L306.70,291.40 L308.70,291.40 L308.70,292.75 L310.70,292.75 L310.70,294.10 L312.00,294.10 L312.00,296.10 L316.70,296.10 L316.70,297.40 L318.00,297.40 L318.00,300.10 L320.70,300.10 L320.70,303.40 L331.40,303.40" fill="none" stroke="#cc3040" stroke-width="1.35" stroke-linejoin="miter" stroke-linecap="butt"/>
<text x="322.80" y="273.80" font-size="8.2" text-anchor="middle" fill="#40508f" stroke="#40508f" stroke-width="0.0">1</text>
<text x="317.60" y="312.60" font-size="8.2" text-anchor="middle" fill="#cc3040" stroke="#cc3040" stroke-width="0.0">2</text>
<line x1="388.30" y1="215.80" x2="508.60" y2="215.80" stroke="#d6d6d6" stroke-width="0.9" stroke-dasharray="1 2.2"/>
<line x1="388.30" y1="237.10" x2="508.60" y2="237.10" stroke="#d6d6d6" stroke-width="0.9" stroke-dasharray="1 2.2"/>
<line x1="388.30" y1="258.40" x2="508.60" y2="258.40" stroke="#d6d6d6" stroke-width="0.9" stroke-dasharray="1 2.2"/>
<line x1="388.30" y1="279.70" x2="508.60" y2="279.70" stroke="#d6d6d6" stroke-width="0.9" stroke-dasharray="1 2.2"/>
<line x1="388.30" y1="301.00" x2="508.60" y2="301.00" stroke="#d6d6d6" stroke-width="0.9" stroke-dasharray="1 2.2"/>
<line x1="388.30" y1="322.30" x2="508.60" y2="322.30" stroke="#d6d6d6" stroke-width="0.9" stroke-dasharray="1 2.2"/>
<line x1="388.30" y1="215.80" x2="388.30" y2="322.30" stroke="#d6d6d6" stroke-width="0.9" stroke-dasharray="1 2.2"/>
<line x1="428.40" y1="215.80" x2="428.40" y2="322.30" stroke="#d6d6d6" stroke-width="0.9" stroke-dasharray="1 2.2"/>
<line x1="468.50" y1="215.80" x2="468.50" y2="322.30" stroke="#d6d6d6" stroke-width="0.9" stroke-dasharray="1 2.2"/>
<line x1="508.60" y1="215.80" x2="508.60" y2="322.30" stroke="#d6d6d6" stroke-width="0.9" stroke-dasharray="1 2.2"/>
<path d="M380.90,215.80 L384.10,215.80 L384.10,322.30 L380.90,322.30" fill="none" stroke="#151515" stroke-width="1.3"/>
<line x1="380.90" y1="237.10" x2="384.10" y2="237.10" stroke="#151515" stroke-width="1.3"/>
<line x1="380.90" y1="258.40" x2="384.10" y2="258.40" stroke="#151515" stroke-width="1.3"/>
<line x1="380.90" y1="279.70" x2="384.10" y2="279.70" stroke="#151515" stroke-width="1.3"/>
<line x1="380.90" y1="301.00" x2="384.10" y2="301.00" stroke="#151515" stroke-width="1.3"/>
<text transform="translate(376.60,215.80) rotate(-90)" font-size="8.6" text-anchor="middle" fill="#1c1c1c" stroke="#1c1c1c" stroke-width="0.0">1.0</text>
<text transform="translate(376.60,237.10) rotate(-90)" font-size="8.6" text-anchor="middle" fill="#1c1c1c" stroke="#1c1c1c" stroke-width="0.0">0.8</text>
<text transform="translate(376.60,258.40) rotate(-90)" font-size="8.6" text-anchor="middle" fill="#1c1c1c" stroke="#1c1c1c" stroke-width="0.0">0.6</text>
<text transform="translate(376.60,279.70) rotate(-90)" font-size="8.6" text-anchor="middle" fill="#1c1c1c" stroke="#1c1c1c" stroke-width="0.0">0.4</text>
<text transform="translate(376.60,301.00) rotate(-90)" font-size="8.6" text-anchor="middle" fill="#1c1c1c" stroke="#1c1c1c" stroke-width="0.0">0.2</text>
<text transform="translate(376.60,322.30) rotate(-90)" font-size="8.6" text-anchor="middle" fill="#1c1c1c" stroke="#1c1c1c" stroke-width="0.0">0.0</text>
<path d="M388.30,330.10 L388.30,327.10 L508.60,327.10 L508.60,330.10" fill="none" stroke="#151515" stroke-width="1.3"/>
<line x1="428.40" y1="327.10" x2="428.40" y2="330.10" stroke="#151515" stroke-width="1.3"/>
<line x1="468.50" y1="327.10" x2="468.50" y2="330.10" stroke="#151515" stroke-width="1.3"/>
<text x="388.30" y="342.20" font-size="8.7" text-anchor="middle" fill="#1c1c1c" stroke="#1c1c1c" stroke-width="0.0">0</text>
<text x="429.20" y="342.20" font-size="8.7" text-anchor="middle" fill="#1c1c1c" stroke="#1c1c1c" stroke-width="0.0">5</text>
<text x="470.00" y="342.20" font-size="8.7" text-anchor="middle" fill="#1c1c1c" stroke="#1c1c1c" stroke-width="0.0">10</text>
<text x="509.80" y="342.20" font-size="8.7" text-anchor="middle" fill="#1c1c1c" stroke="#1c1c1c" stroke-width="0.0">15</text>
<text transform="translate(363.30,269.05) rotate(-90)" font-size="9.6" text-anchor="middle" textLength="68.40" lengthAdjust="spacingAndGlyphs" fill="#1c1c1c" stroke="#1c1c1c" stroke-width="0.0">Overall survival</text>
<text x="446.75" y="354.60" font-size="10.0" text-anchor="middle" textLength="24.60" lengthAdjust="spacingAndGlyphs" fill="#1c1c1c" stroke="#1c1c1c" stroke-width="0.0">Years</text>
<text x="389.40" y="365.20" font-size="7.1" text-anchor="middle" fill="#464f80" stroke="#464f80" stroke-width="0.0">9</text>
<text x="389.40" y="373.70" font-size="7.1" text-anchor="middle" fill="#c03c4c" stroke="#c03c4c" stroke-width="0.0">9</text>
<text x="429.50" y="365.20" font-size="7.1" text-anchor="middle" fill="#464f80" stroke="#464f80" stroke-width="0.0">6</text>
<text x="429.50" y="373.70" font-size="7.1" text-anchor="middle" fill="#c03c4c" stroke="#c03c4c" stroke-width="0.0">2</text>
<text x="469.30" y="365.20" font-size="7.1" text-anchor="middle" fill="#464f80" stroke="#464f80" stroke-width="0.0">2</text>
<text x="469.30" y="373.70" font-size="7.1" text-anchor="middle" fill="#c03c4c" stroke="#c03c4c" stroke-width="0.0">0</text>
<text x="511.70" y="365.20" font-size="7.1" text-anchor="middle" fill="#464f80" stroke="#464f80" stroke-width="0.0">0</text>
<text x="511.70" y="373.70" font-size="7.1" text-anchor="middle" fill="#c03c4c" stroke="#c03c4c" stroke-width="0.0">0</text>
<text x="421.00" y="203.40" font-size="9.4" textLength="59.40" lengthAdjust="spacingAndGlyphs" fill="#1c1c1c" stroke="#1c1c1c" stroke-width="0.0">DLBCL-t only</text>
<text x="461.50" y="224.00" font-size="10.2" textLength="42.30" lengthAdjust="spacingAndGlyphs" fill="#1c1c1c" stroke="#1c1c1c" stroke-width="0.0">p = 0.006</text>
<path d="M391.40,215.70 L401.50,215.70 L401.50,227.40 L413.20,227.40 L413.20,239.50 L423.70,239.50 L423.70,251.50 L454.10,251.50 L454.10,265.80 L459.50,265.80 L459.50,280.10 L463.10,280.10 L463.10,294.40 L501.00,294.40" fill="none" stroke="#40508f" stroke-width="1.35" stroke-linejoin="miter" stroke-linecap="butt"/>
<path d="M388.80,215.70 L391.40,215.70 L391.40,227.40 L393.50,227.40 L393.50,239.50 L406.90,239.50 L406.90,253.60 L410.40,253.60 L410.40,266.90 L412.20,266.90 L412.20,280.10 L414.00,280.10 L414.00,294.40 L434.40,294.40 L434.40,308.00 L454.10,308.00 L454.10,322.30" fill="none" stroke="#cc3040" stroke-width="1.35" stroke-linejoin="miter" stroke-linecap="butt"/>
<text x="460.50" y="301.60" font-size="8.2" text-anchor="middle" fill="#40508f" stroke="#40508f" stroke-width="0.0">1</text>
<text x="431.70" y="316.90" font-size="8.2" text-anchor="middle" fill="#cc3040" stroke="#cc3040" stroke-width="0.0">2</text>
</g></svg></body></html>
